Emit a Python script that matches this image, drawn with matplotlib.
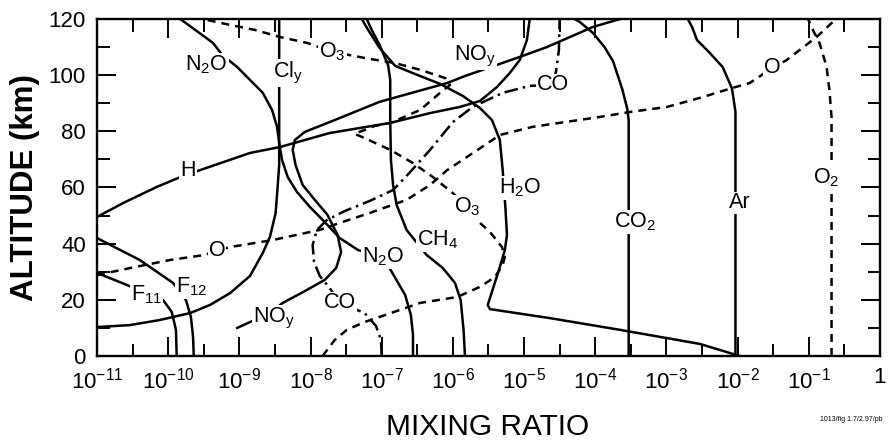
import numpy as np
import matplotlib.pyplot as plt
from matplotlib.ticker import FixedLocator, FixedFormatter, NullFormatter

plt.rcParams['font.family'] = ['Liberation Sans', 'DejaVu Sans']
plt.rcParams['mathtext.fontset'] = 'custom'
plt.rcParams['mathtext.rm'] = 'Liberation Sans'
plt.rcParams['mathtext.it'] = 'Liberation Sans:italic'
plt.rcParams['mathtext.bf'] = 'Liberation Sans:bold'

# altitude (km) and log10(mixing ratio) for each species
co2_alt = [0, 84, 88, 95, 105, 110, 115, 119, 120]
co2_log = [-3.53, -3.53, -3.55, -3.62, -3.75, -3.87, -4.03, -4.22, -4.29]

ar_alt = [0, 87, 95.4, 102.9, 107.9, 112.5, 117.2, 120]
ar_log = [-2.03, -2.03, -2.08, -2.21, -2.39, -2.57, -2.64, -2.70]

o2_alt = [0, 85, 94.7, 103, 111.5, 116, 120]
o2_log = [-0.68, -0.68, -0.71, -0.75, -0.85, -0.94, -1.01]

o_alt = [28.8, 31.3, 34.2, 36.0, 37.7, 38.8, 41.3, 44.9, 47.4, 50.9, 55.6, 60.9,
         66.2, 70.9, 78.7, 81.6, 85.1, 86.9, 88.7, 91.9, 95.4, 97.2, 102.6,
         105.4, 113.6, 119.7]
o_log = [-11.0, -10.54, -9.97, -9.48, -9.31, -9.13, -8.53, -7.87, -7.59, -7.17,
         -6.65, -6.32, -6.08, -5.80, -5.34, -4.88, -3.94, -3.51, -2.99, -2.53,
         -2.08, -1.83, -1.51, -1.31, -0.89, -0.63]

o3_alt = [0, 5.7, 9.3, 12.1, 13.9, 18.9, 21.0, 24.6, 28.1, 32.4, 35.3, 38.8,
          44.2, 47.4, 53.1, 58.0, 63.7, 68.7, 73.4, 77.6, 79.1, 81.9, 83.0,
          87.6, 93.7, 96.5, 99.0, 101.9, 104.3, 105.8, 108.3, 111.5, 113.6,
          116.1, 117.9, 119.7]
o3_log = [-7.83, -7.66, -7.49, -7.24, -7.03, -6.46, -5.94, -5.62, -5.41, -5.30,
          -5.27, -5.31, -5.48, -5.62, -5.80, -6.00, -6.28, -6.56, -6.88, -7.24,
          -7.38, -7.10, -6.88, -6.46, -6.18, -6.04, -6.11, -6.46, -6.81, -7.17,
          -7.69, -8.05, -8.43, -8.78, -9.13, -9.46]

h_alt = [49.5, 54.5, 60.2, 63.7, 66.2, 72.3, 74.4, 79.4, 83.0, 86.5, 88.7,
         90.8, 95.8, 100.8, 105.4, 112.5, 120]
h_log = [-11.0, -10.63, -10.16, -9.83, -9.55, -8.85, -8.43, -7.73, -6.88,
         -6.32, -5.90, -5.62, -5.38, -5.20, -5.06, -4.96, -4.92]

noy_alt = [10.0, 15.3, 18.9, 23.1, 27.1, 31.3, 37.0, 43.1, 50.2, 55.6, 60.9,
           68.0, 73.4, 76.9, 79.8, 83.3, 90.5, 97.2, 99.7, 106.5, 110.0,
           114.3, 117.2, 120]
noy_log = [-9.03, -8.57, -8.39, -8.08, -7.80, -7.64, -7.57, -7.62, -7.76,
           -7.94, -8.11, -8.21, -8.25, -8.22, -8.08, -7.73, -7.03, -6.08,
           -5.83, -5.06, -4.68, -4.29, -4.03, -3.65]

co_alt = [0, 5.7, 10.7, 15.3, 18.9, 24.2, 28.5, 33.5, 39.5, 44.9, 48.4, 51.6,
          55.2, 59.1, 65.5, 73.4, 83.3, 88.7, 93.7, 96.2, 96.5, 101.4, 109.0, 120]
co_log = [-7.00, -7.01, -7.08, -7.24, -7.59, -7.73, -7.87, -7.95, -7.97, -7.91,
          -7.77, -7.52, -7.17, -6.84, -6.60, -6.32, -6.00, -5.72, -5.30, -4.92,
          -4.60, -4.55, -4.51, -4.50]

ch4_alt = [0, 9.3, 19.9, 26.0, 31.3, 36.0, 44.9, 53.8, 60.9, 69.8, 84.0, 98.3,
           103.6, 110.8, 116.1, 120]
ch4_log = [-5.83, -5.85, -5.89, -5.97, -6.14, -6.37, -6.65, -6.79, -6.84,
           -6.87, -6.88, -6.88, -6.91, -7.03, -7.14, -7.21]

h2o_alt = [0, 4.3, 9.3, 13.5, 16.7, 18.2, 25.3, 31.7, 37.7, 43.1, 52.0, 66.2,
           76.9, 84.0, 88.3, 92.6, 96.9, 100.4, 103.3, 109.7, 116.1, 120]
h2o_log = [-1.97, -2.53, -3.65, -4.64, -5.48, -5.51, -5.42, -5.34, -5.27,
           -5.24, -5.26, -5.30, -5.34, -5.45, -5.62, -5.86, -6.18, -6.53,
           -6.81, -7.03, -7.19, -7.28]

n2o_alt = [0, 7.5, 14.6, 21.7, 27.8, 35.3, 37.7, 42.0, 47.7, 53.1, 58.4, 63.7,
           69.8, 75.9, 81.6, 87.6, 93.7, 98.3, 102.9, 107.2, 111.5, 120]
n2o_log = [-6.56, -6.56, -6.59, -6.67, -6.81, -6.98, -7.33, -7.59, -7.80,
           -8.01, -8.19, -8.32, -8.40, -8.44, -8.47, -8.54, -8.67, -8.85,
           -9.03, -9.24, -9.37, -9.83]

cly_alt = [10.3, 11.0, 12.8, 15.3, 18.2, 22.4, 28.5, 36.7, 42.4, 50.9, 60.9,
           68.0, 120]
cly_log = [-11.0, -10.54, -10.12, -9.69, -9.41, -9.13, -8.85, -8.67, -8.57,
           -8.49, -8.46, -8.44, -8.44]

f11_alt = [29.6, 25.6, 19.9, 15.7, 9.3, 0]
f11_log = [-11.0, -10.61, -10.07, -9.95, -9.89, -9.88]

f12_alt = [42.0, 34.2, 26.0, 19.9, 13.9, 6.8, 0]
f12_log = [-11.0, -10.40, -9.93, -9.75, -9.68, -9.65, -9.64]

# curve labels: text, log10(mixing ratio), altitude
labels = [
    (r'N$_2$O', -9.46, 103.6),
    (r'Cl$_\mathrm{y}$', -8.32, 100.8),
    (r'O$_3$', -7.69, 108.3),
    (r'NO$_\mathrm{y}$', -5.69, 106.5),
    ('CO', -4.60, 96.5),
    ('O', -1.51, 102.6),
    ('H', -9.72, 66.2),
    (r'H$_2$O', -5.06, 59.8),
    (r'O$_3$', -5.80, 53.1),
    (r'CO$_2$', -3.44, 47.7),
    ('Ar', -1.97, 54.5),
    (r'O$_2$', -0.75, 63.4),
    ('O', -9.31, 37.7),
    (r'N$_2$O', -6.98, 35.3),
    (r'CH$_4$', -6.22, 41.3),
    (r'F$_{11}$', -10.30, 21.7),
    (r'F$_{12}$', -9.67, 24.6),
    (r'NO$_\mathrm{y}$', -8.51, 13.5),
    ('CO', -7.59, 18.9),
]

solid = [(co2_alt, co2_log), (ar_alt, ar_log), (h_alt, h_log),
         (noy_alt, noy_log), (ch4_alt, ch4_log), (h2o_alt, h2o_log),
         (n2o_alt, n2o_log), (cly_alt, cly_log), (f11_alt, f11_log),
         (f12_alt, f12_log)]
dashed = [(o_alt, o_log), (o3_alt, o3_log), (o2_alt, o2_log)]

fig = plt.figure(figsize=(8.92, 4.43), dpi=100)
ax = fig.add_axes([0.1087, 0.1964, 0.8778, 0.7607])

lw = 1.8
for alt, lg in solid:
    ax.plot(10 ** np.array(lg), alt, color='black', lw=lw, zorder=2)
for alt, lg in dashed:
    ax.plot(10 ** np.array(lg), alt, color='black', lw=lw,
            linestyle=(0, (3.2, 2.4)), zorder=2)
ax.plot(10 ** np.array(co_log), co_alt, color='black', lw=lw,
        linestyle=(0, (5.5, 2, 1, 2)), zorder=2)

for txt, lg, alt in labels:
    ax.text(10 ** lg, alt, txt, fontsize=15.5, ha='center', va='center',
            zorder=5, bbox=dict(facecolor='white', edgecolor='none', pad=0.6))

ax.set_xscale('log')
ax.set_xlim(1e-11, 1)
ax.set_ylim(0, 120)

majors = [10.0 ** k for k in range(-11, 1)]
minors = [10.0 ** (k + 0.5) for k in range(-11, 0)]
ax.xaxis.set_major_locator(FixedLocator(majors))
ax.xaxis.set_major_formatter(FixedFormatter(
    [r'$10^{%d}$' % k for k in range(-11, 0)] + ['1']))
ax.xaxis.set_minor_locator(FixedLocator(minors))
ax.xaxis.set_minor_formatter(NullFormatter())
ax.yaxis.set_major_locator(FixedLocator(range(0, 121, 20)))
ax.yaxis.set_minor_locator(FixedLocator(range(10, 120, 20)))

ax.tick_params(which='both', direction='in', top=True, right=True,
               width=1.4, labelsize=16, pad=8)
ax.tick_params(which='major', length=14)
ax.tick_params(which='minor', length=9)
for sp in ax.spines.values():
    sp.set_linewidth(1.7)

fig.text(0.028, 0.577, 'ALTITUDE (km)', rotation=90, fontsize=22.5,
         fontweight='bold', ha='center', va='center')
fig.text(0.547, 0.036, 'MIXING RATIO', fontsize=21.5, ha='center', va='center')
fig.text(0.989, 0.052, '1013/fig 1.7/2.97/pb', fontsize=5, ha='right',
         va='center')

fig.savefig('out.png', dpi=100)
